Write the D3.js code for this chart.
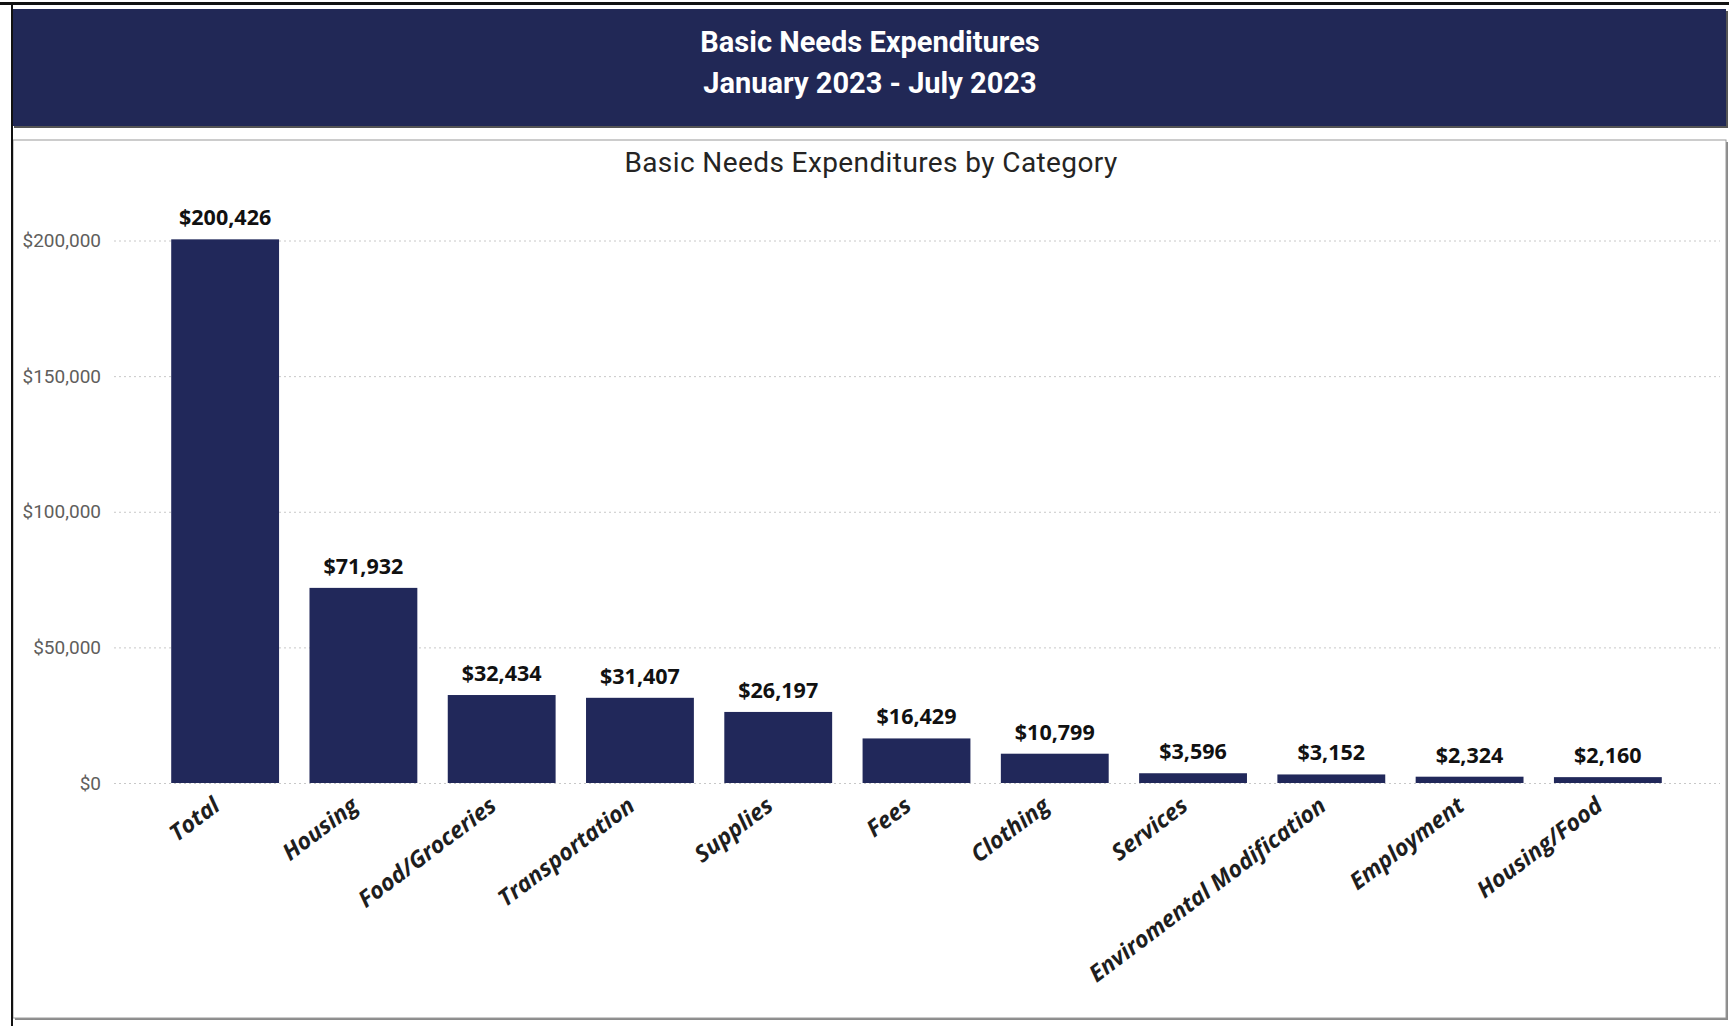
<!DOCTYPE html>
<html>
<head>
<meta charset="utf-8">
<script src="https://cdn.jsdelivr.net/npm/d3@7"></script>
<style>
  body { margin: 0; background: #fff; }
  svg { display: block; }
</style>
</head>
<body>
<div id="root"></div>
<script>
const titleLines = ["Basic Needs Expenditures", "January 2023 - July 2023"];
const chartTitle = "Basic Needs Expenditures by Category";
const categories = ["Total", "Housing", "Food/Groceries", "Transportation", "Supplies", "Fees",
  "Clothing", "Services", "Enviromental Modification", "Employment", "Housing/Food"];
const amounts = [200426, 71932, 32434, 31407, 26197, 16429, 10799, 3596, 3152, 2324, 2160];
const yTicks = [0, 50000, 100000, 150000, 200000];

const width = 1729;
const height = 1026;
const navy = "#21285a";

var svg = d3.select("#root").append("svg")
  .attr("width", width)
  .attr("height", height);

// outer frame line on top
svg.append("rect").attr("x", 0).attr("y", 2).attr("width", width).attr("height", 3).attr("fill", "#111");

// header banner
svg.append("rect")
  .attr("x", 14).attr("y", 11).attr("width", 1714).attr("height", 117)
  .attr("fill", "#555");
svg.append("rect")
  .attr("x", 12).attr("y", 9).attr("width", 1714).attr("height", 117)
  .attr("fill", "#212856");

svg.selectAll("text.head")
  .data(titleLines)
  .enter().append("text")
  .attr("class", "head")
  .attr("x", 870)
  .attr("y", (d, i) => 52 + i * 41)
  .attr("text-anchor", "middle")
  .attr("font-family", "Roboto, 'Open Sans', sans-serif")
  .attr("font-weight", "bold")
  .attr("font-size", 29)
  .attr("fill", "#fff")
  .text(d => d);

// chart panel
svg.append("rect")
  .attr("x", 15).attr("y", 142).attr("width", 1713).attr("height", 878)
  .attr("fill", "#8a8a8a");
svg.append("rect")
  .attr("x", 13).attr("y", 140).attr("width", 1713).attr("height", 878)
  .attr("fill", "#fff")
  .attr("stroke", "#9a9a9a")
  .attr("stroke-width", 1);
// left frame line
svg.append("rect").attr("x", 11).attr("y", 2).attr("width", 2).attr("height", height).attr("fill", "#111");

svg.append("text")
  .attr("x", 871)
  .attr("y", 172)
  .attr("text-anchor", "middle")
  .attr("font-family", "Roboto, sans-serif")
  .attr("font-size", 28)
  .attr("letter-spacing", 0.4)
  .attr("fill", "#252423")
  .text(chartTitle);

var x = d3.scaleBand()
  .domain(categories)
  .range([156, 1677])
  .paddingInner(0.22)
  .paddingOuter(0.11);

var y = d3.scaleLinear()
  .domain([0, 200000])
  .range([783, 240.5]);

// gridlines + y labels
var yAxis = d3.axisLeft(y)
  .tickValues(yTicks)
  .tickSize(-(1720 - 114))
  .tickPadding(13)
  .tickFormat(d => "$" + d3.format(",")(d));

var yg = svg.append("g")
  .attr("transform", "translate(114,0)")
  .call(yAxis);
yg.select(".domain").remove();
yg.selectAll(".tick line")
  .attr("stroke", "#c8c8c8")
  .attr("stroke-dasharray", "2,3");
yg.selectAll(".tick text")
  .attr("font-family", "Roboto, sans-serif")
  .attr("font-size", 19)
  .attr("fill", "#605e5c");

// bars
svg.append("g").selectAll("rect")
  .data(amounts)
  .enter().append("rect")
  .attr("x", (d, i) => x(categories[i]))
  .attr("y", d => y(d))
  .attr("width", x.bandwidth())
  .attr("height", d => y(0) - y(d))
  .attr("fill", navy);

// value labels
svg.append("g").selectAll("text")
  .data(amounts)
  .enter().append("text")
  .attr("x", (d, i) => x(categories[i]) + x.bandwidth() / 2)
  .attr("y", d => y(d) - 14)
  .attr("text-anchor", "middle")
  .attr("font-family", "'Open Sans', sans-serif")
  .attr("font-weight", "bold")
  .attr("font-size", 21.5)
  .attr("fill", "#111")
  .text(d => "$" + d3.format(",")(d));

// x axis labels
var xAxis = d3.axisBottom(x).tickSize(0).tickPadding(0);
var xg = svg.append("g")
  .attr("transform", "translate(0," + y(0) + ")")
  .call(xAxis);
xg.select(".domain").remove();
xg.selectAll(".tick text")
  .attr("font-family", "'Open Sans', sans-serif")
  .attr("font-style", "italic")
  .attr("font-weight", 700)
  .attr("font-size", 23)
  .attr("fill", "#1e1e1e")
  .attr("text-anchor", "end")
  .attr("dy", "0.75em")
  .attr("transform", "translate(-14,12) rotate(-37)");
</script>
</body>
</html>
